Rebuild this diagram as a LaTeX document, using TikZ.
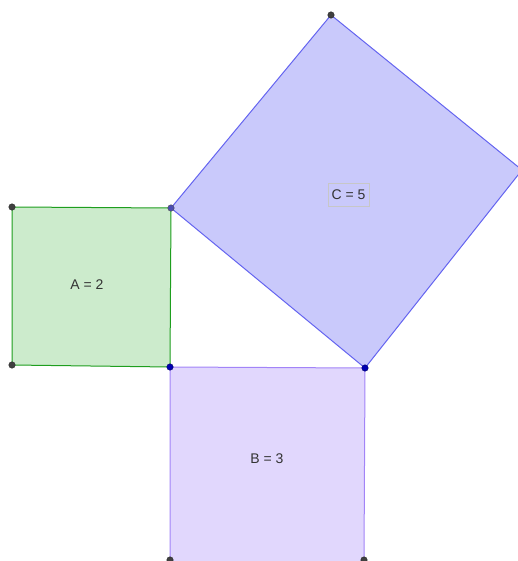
\documentclass[tikz,border=0pt]{standalone}
\usepackage{fontspec}
\setmainfont{Liberation Sans}
\begin{document}
\begin{tikzpicture}[x=1pt,y=-1pt,
  lbl/.style={font=\fontsize{14}{16}\selectfont, text=black!80, inner sep=2pt},
  dpt/.style={circle, fill=black!75, draw=black!85, inner sep=0pt, minimum size=6.5pt},
  bpt/.style={circle, fill=blue!70!black, draw=blue!40!black, inner sep=0pt, minimum size=6.5pt},
  gpt/.style={circle, fill=blue!40!gray, draw=black!70, inner sep=0pt, minimum size=6.5pt}]
\definecolor{gfill}{HTML}{CCEBCC}
\definecolor{gline}{HTML}{1E9E1E}
\definecolor{cfill}{HTML}{C9C9FB}
\definecolor{cline}{HTML}{6464F0}
\definecolor{bfill}{HTML}{E1D7FD}
\definecolor{bline}{HTML}{A284F7}
\useasboundingbox (0,0) rectangle (518,561);
\coordinate (a1) at (12,207);
\coordinate (p) at (171,208);
\coordinate (q) at (170,367);
\coordinate (a4) at (12,365);
\coordinate (r) at (365,368);
\coordinate (c1) at (331,15);
\coordinate (c2) at (522,170);
\coordinate (b3) at (364,561);
\coordinate (b4) at (170,561);
\fill[bfill] (q) -- (r) -- (b3) -- (b4) -- cycle;
\draw[bline, line width=1pt] (q) -- (r) -- (b3) (b4) -- (q);
\fill[gfill] (a1) -- (p) -- (q) -- (a4) -- cycle;
\draw[gline, line width=1pt] (a1) -- (p) -- (q) -- (a4) -- cycle;
\fill[cfill] (p) -- (c1) -- (c2) -- (r) -- cycle;
\draw[cline, line width=1pt] (p) -- (c1) -- (c2) -- (r) -- cycle;
\node[lbl] (la) at (87,285) {A = 2};
\node[lbl] (lb) at (267,459) {B = 3};
\node[lbl, draw=black!22, minimum width=41pt, minimum height=23pt] (lc) at (348.5,194.5) {C = 5};
\node[dpt] (pa1) at (a1) {};
\node[dpt] (pa4) at (a4) {};
\node[dpt] (pc1) at (c1) {};
\node[dpt] (pb3) at (364,560) {};
\node[dpt] (pb4) at (170,560) {};
\node[bpt] (pq) at (q) {};
\node[bpt] (pr) at (r) {};
\node[gpt] (pp) at (p) {};
\end{tikzpicture}
\end{document}
